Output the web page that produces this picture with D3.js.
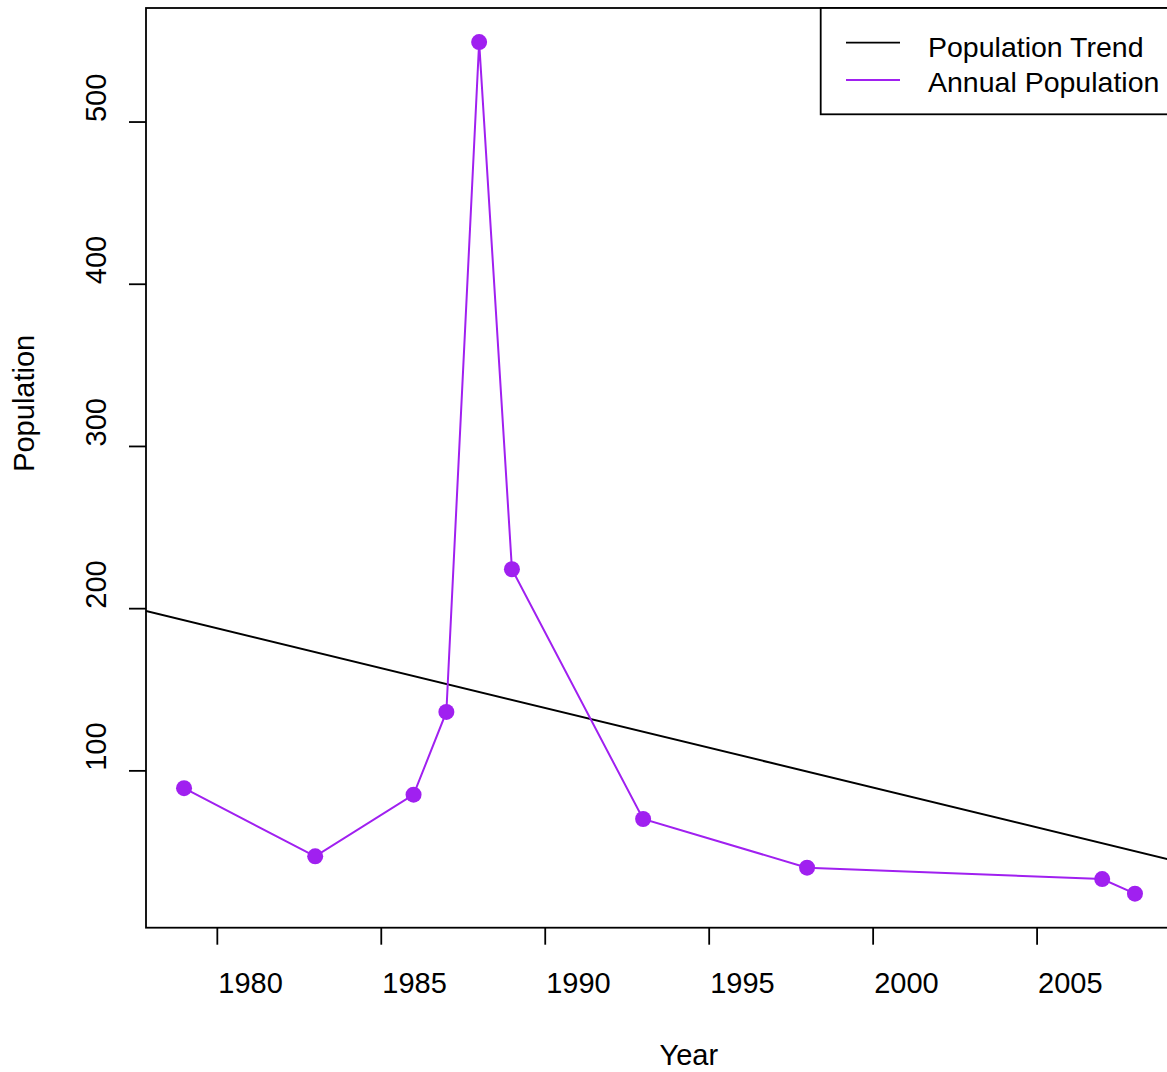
<!DOCTYPE html>
<html>
<head>
<meta charset="utf-8">
<script src="https://cdn.jsdelivr.net/npm/d3@7"></script>
<style>
  html, body { margin: 0; padding: 0; background: #fff; overflow: hidden; }
  svg { display: block; font-family: "Liberation Sans", Arial, sans-serif; }
</style>
</head>
<body>
<svg></svg>
<script>
const width = 1167;
const height = 1072;

// data
const years = [1979, 1983, 1986, 1987, 1988, 1989, 1993, 1998, 2007, 2008];
const population = [89, 47, 85, 136, 549, 224, 70, 40, 33, 24];
const xTicks = [1980, 1985, 1990, 1995, 2000, 2005];
const yTicks = [100, 200, 300, 400, 500];
const legendLabels = ["Population Trend", "Annual Population"];
const legendColors = ["#000000", "#A020F0"];

const purple = "#A020F0";
const fontSize = 29;

const margin = { top: 8, right: -6, bottom: 144.3, left: 146 };

const svg = d3.select("svg")
  .attr("width", width)
  .attr("height", height);

// R style 4% padding on both axes
function padded(vals) {
  const [lo, hi] = d3.extent(vals);
  const p = (hi - lo) * 0.04;
  return [lo - p, hi + p];
}

const x = d3.scaleLinear()
  .domain(padded(years))
  .range([margin.left, width - margin.right]);

const y = d3.scaleLinear()
  .domain(padded(population))
  .range([height - margin.bottom, margin.top]);

const points = years.map((yr, i) => ({ year: yr, value: population[i] }));

// least squares trend
const mx = d3.mean(years), my = d3.mean(population);
const slope = d3.sum(points, d => (d.year - mx) * (d.value - my)) /
  d3.sum(points, d => (d.year - mx) ** 2);
const intercept = my - slope * mx;

svg.append("clipPath").attr("id", "plot-clip")
  .append("rect")
  .attr("x", x.range()[0])
  .attr("y", y.range()[1])
  .attr("width", x.range()[1] - x.range()[0])
  .attr("height", y.range()[0] - y.range()[1]);

const plot = svg.append("g").attr("clip-path", "url(#plot-clip)");

// trend line across the whole plot
const xd = x.domain();
plot.append("line")
  .attr("x1", x(xd[0]))
  .attr("y1", y(intercept + slope * xd[0]))
  .attr("x2", x(xd[1]))
  .attr("y2", y(intercept + slope * xd[1]))
  .attr("stroke", "#000")
  .attr("stroke-width", 2);

// annual population
plot.append("path")
  .datum(points)
  .attr("fill", "none")
  .attr("stroke", purple)
  .attr("stroke-width", 2)
  .attr("d", d3.line().x(d => x(d.year)).y(d => y(d.value)));

plot.append("g")
  .selectAll("circle")
  .data(points)
  .join("circle")
  .attr("cx", d => x(d.year))
  .attr("cy", d => y(d.value))
  .attr("r", 8)
  .attr("fill", purple);

// plot box
svg.append("rect")
  .attr("x", x.range()[0])
  .attr("y", y.range()[1])
  .attr("width", x.range()[1] - x.range()[0])
  .attr("height", y.range()[0] - y.range()[1])
  .attr("fill", "none")
  .attr("stroke", "#000")
  .attr("stroke-width", 1.8);

// x axis
const gx = svg.append("g")
  .attr("transform", `translate(0,${y.range()[0]})`)
  .call(d3.axisBottom(x).tickValues(xTicks).tickFormat(d3.format("d")).tickSize(17));
gx.select(".domain").remove();
gx.selectAll("line").attr("stroke", "#000").attr("stroke-width", 1.8);
gx.selectAll("text")
  .attr("x", 1)
  .attr("y", 65.5)
  .attr("dy", null)
  .attr("text-anchor", "start")
  .attr("font-size", fontSize)
  .attr("font-family", null)
  .attr("fill", "#000");

// y axis
const gy = svg.append("g")
  .attr("transform", `translate(${x.range()[0]},0)`)
  .call(d3.axisLeft(y).tickValues(yTicks).tickFormat(d3.format("d")).tickSize(17));
gy.select(".domain").remove();
gy.selectAll("line").attr("stroke", "#000").attr("stroke-width", 1.8);
gy.selectAll("text")
  .attr("x", 0)
  .attr("y", 0)
  .attr("dy", null)
  .attr("transform", "translate(-40,0) rotate(-90)")
  .attr("text-anchor", "start")
  .attr("font-size", fontSize)
  .attr("font-family", null)
  .attr("fill", "#000");

// axis titles
svg.append("text")
  .attr("x", (x.range()[0] + x.range()[1]) / 2)
  .attr("y", 1065)
  .attr("font-size", fontSize)
  .text("Year");

svg.append("text")
  .attr("transform", `translate(34,${(y.range()[0] + y.range()[1]) / 2 + 4}) rotate(-90)`)
  .attr("font-size", fontSize)
  .text("Population");

// legend
const legend = svg.append("g");
legend.append("rect")
  .attr("x", 820.7)
  .attr("y", margin.top)
  .attr("width", 400)
  .attr("height", 106.3)
  .attr("fill", "#fff")
  .attr("stroke", "#000")
  .attr("stroke-width", 1.8);

const items = legend.selectAll("g.item")
  .data(legendLabels)
  .join("g")
  .attr("class", "item");

items.append("line")
  .attr("x1", 846)
  .attr("x2", 900)
  .attr("y1", (d, i) => 42.7 + i * 37.3)
  .attr("y2", (d, i) => 42.7 + i * 37.3)
  .attr("stroke", (d, i) => legendColors[i])
  .attr("stroke-width", 1.8);

items.append("text")
  .attr("x", 928)
  .attr("y", (d, i) => 57 + i * 35)
  .attr("font-size", 28.5)
  .text(d => d);
</script>
</body>
</html>
